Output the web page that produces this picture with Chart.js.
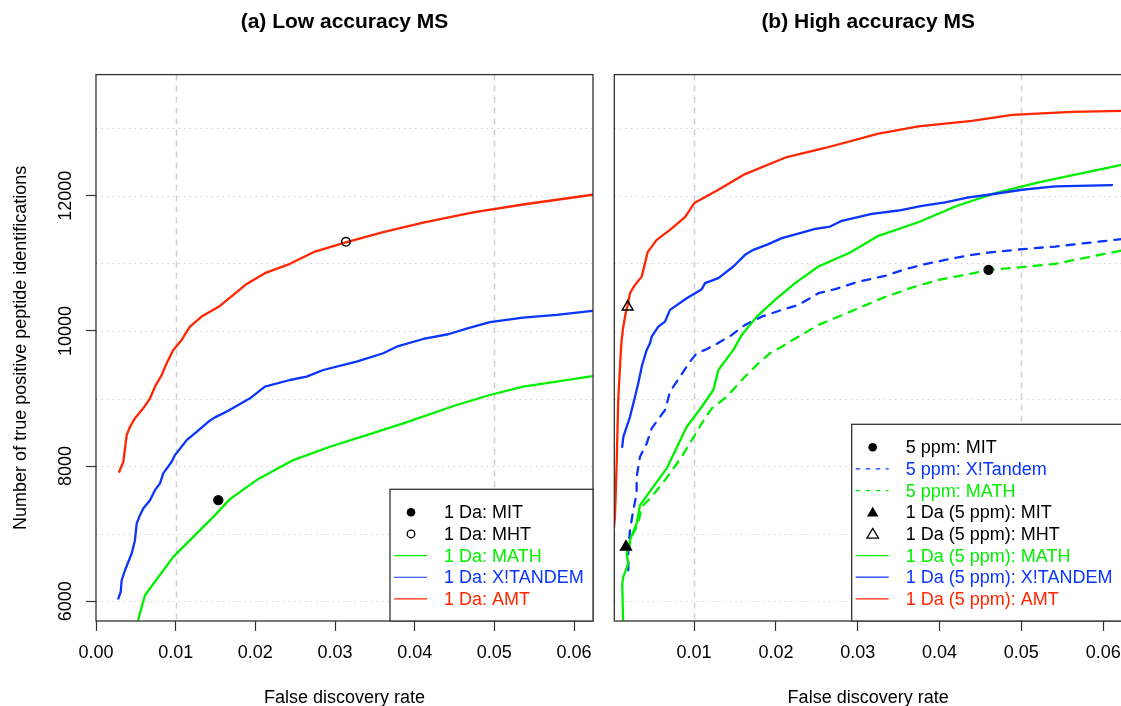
<!DOCTYPE html>
<html>
<head>
<meta charset="utf-8">
<title>FDR curves</title>
<script src="https://cdn.jsdelivr.net/npm/chart.js@4.4.0/dist/chart.umd.min.js"></script>
<style>
  html, body { margin: 0; padding: 0; background: #fff; overflow: hidden; width: 1121px; height: 706px; }
  canvas { position: absolute; top: 0; }
  #lowChart { left: 0; }
  #highChart { left: 600px; }
</style>
</head>
<body>
<canvas id="lowChart" width="600" height="706"></canvas>
<canvas id="highChart" width="530" height="706"></canvas>
<script>
// ---------- axis ticks / grid ----------
const xTicks = [0, 0.01, 0.02, 0.03, 0.04, 0.05, 0.06];
const yTicks = [6000, 8000, 10000, 12000];
const xGrid = [0.01, 0.05];
const yGrid = [6000, 7000, 8000, 9000, 10000, 11000, 12000, 13000];

// ---------- (a) low accuracy MS, 1 Da ----------
const lowAmtFdr = [0.00292, 0.00343, 0.00385, 0.00427, 0.00489, 0.00593, 0.00678, 0.00740, 0.00824, 0.00887, 0.00970, 0.01075, 0.01179, 0.01326, 0.01556, 0.01723, 0.01891, 0.02120, 0.02434, 0.02748, 0.03146, 0.03605, 0.04107, 0.04734, 0.05361, 0.06232, 0.06500];
const lowAmtCount = [7916, 8064, 8459, 8582, 8707, 8855, 9003, 9175, 9348, 9521, 9719, 9867, 10063, 10212, 10370, 10533, 10696, 10855, 10993, 11175, 11314, 11462, 11604, 11753, 11871, 12015, 12060];

const lowTandemFdr = [0.00280, 0.00310, 0.00322, 0.00364, 0.00448, 0.00489, 0.00511, 0.00552, 0.00593, 0.00678, 0.00740, 0.00803, 0.00844, 0.00950, 0.00991, 0.01138, 0.01263, 0.01409, 0.01493, 0.01660, 0.01932, 0.02120, 0.02434, 0.02644, 0.02852, 0.03271, 0.03605, 0.03773, 0.04107, 0.04420, 0.04651, 0.04944, 0.05361, 0.05780, 0.06232, 0.06500];
const lowTandemCount = [6040, 6138, 6311, 6459, 6707, 6904, 7151, 7274, 7374, 7496, 7644, 7744, 7892, 8064, 8163, 8385, 8508, 8656, 8721, 8819, 9003, 9175, 9274, 9323, 9422, 9545, 9670, 9767, 9881, 9951, 10034, 10129, 10197, 10237, 10296, 10320];

const lowMathFdr = [0.00500, 0.00615, 0.00970, 0.01472, 0.01681, 0.02016, 0.02476, 0.02936, 0.03397, 0.03856, 0.04526, 0.04944, 0.05361, 0.05780, 0.06232, 0.06500];
const lowMathCount = [5600, 6089, 6656, 7249, 7511, 7793, 8089, 8286, 8459, 8633, 8904, 9052, 9175, 9249, 9333, 9380];

const lowMit = { x: 0.01535, y: 7496 };
const lowMht = { x: 0.03137, y: 11319 };

// ---------- (b) high accuracy MS ----------
const highAmtFdr = [0.00010, 0.00033, 0.00054, 0.00073, 0.00106, 0.00115, 0.00135, 0.00164, 0.00188, 0.00217, 0.00269, 0.00360, 0.00433, 0.00543, 0.00706, 0.00889, 0.01003, 0.01297, 0.01623, 0.02133, 0.02602, 0.03254, 0.03743, 0.04396, 0.04886, 0.05620, 0.06223, 0.06500];
const highAmtCount = [6950, 7249, 8040, 8978, 9719, 9867, 10063, 10262, 10380, 10558, 10667, 10804, 11166, 11348, 11496, 11684, 11892, 12089, 12321, 12573, 12707, 12919, 13027, 13107, 13196, 13240, 13255, 13262];

const highTandemFdr = [0.00122, 0.00135, 0.00217, 0.00278, 0.00318, 0.00360, 0.00421, 0.00461, 0.00482, 0.00563, 0.00645, 0.00706, 0.00910, 0.01094, 0.01134, 0.01297, 0.01480, 0.01623, 0.01725, 0.01908, 0.02072, 0.02317, 0.02480, 0.02663, 0.02806, 0.03173, 0.03498, 0.03785, 0.04070, 0.04355, 0.04599, 0.05008, 0.05415, 0.06109];
const highTandemCount = [8286, 8434, 8730, 9027, 9225, 9471, 9719, 9818, 9916, 10064, 10138, 10311, 10484, 10618, 10707, 10781, 10953, 11126, 11200, 11284, 11373, 11456, 11511, 11545, 11630, 11733, 11782, 11852, 11901, 11975, 12015, 12089, 12138, 12159];

const highMathFdr = [0.00135, 0.00122, 0.00135, 0.00196, 0.00176, 0.00217, 0.00298, 0.00339, 0.00665, 0.00910, 0.01094, 0.01235, 0.01297, 0.01480, 0.01583, 0.01766, 0.01990, 0.02235, 0.02520, 0.02908, 0.03254, 0.03764, 0.04192, 0.04681, 0.05211, 0.06223, 0.06500];
const highMathCount = [5600, 6262, 6360, 6559, 6707, 6904, 7151, 7422, 7966, 8582, 8878, 9126, 9422, 9719, 9941, 10212, 10459, 10707, 10953, 11160, 11407, 11619, 11841, 12040, 12197, 12459, 12530];

const ppmTandemFdr = [0.00196, 0.00196, 0.00217, 0.00257, 0.00298, 0.00298, 0.00339, 0.00421, 0.00482, 0.00645, 0.00706, 0.00788, 0.00950, 0.01032, 0.01134, 0.01256, 0.01461, 0.01623, 0.01828, 0.02072, 0.02275, 0.02520, 0.02724, 0.03009, 0.03336, 0.03581, 0.03785, 0.04070, 0.04396, 0.04599, 0.05008, 0.05415, 0.06223, 0.06500];
const ppmTandemCount = [6459, 6756, 7052, 7348, 7595, 7841, 8138, 8336, 8559, 8830, 9101, 9249, 9545, 9670, 9719, 9793, 9941, 10089, 10212, 10311, 10385, 10558, 10618, 10730, 10815, 10914, 10978, 11052, 11126, 11160, 11210, 11249, 11359, 11390];

const ppmMathFdr = [0.00196, 0.00237, 0.00318, 0.00360, 0.00482, 0.00645, 0.00849, 0.00971, 0.01094, 0.01216, 0.01399, 0.01583, 0.01786, 0.01929, 0.02072, 0.02275, 0.02520, 0.02765, 0.03009, 0.03295, 0.03662, 0.03988, 0.04314, 0.04599, 0.05008, 0.05415, 0.06223, 0.06500];
const ppmMathCount = [6756, 6953, 7151, 7397, 7545, 7793, 8138, 8385, 8633, 8855, 9027, 9274, 9521, 9670, 9767, 9916, 10089, 10212, 10336, 10484, 10641, 10756, 10830, 10904, 10944, 10993, 11190, 11250];

const ppmMit = { x: 0.04599, y: 10904 };
const highMit = { x: 0.00168, y: 6804 };
const highMht = { x: 0.00188, y: 10356 };

// ---------- legends ----------
const lowLegendLabels = ["1 Da: MIT", "1 Da: MHT", "1 Da: MATH", "1 Da: X!TANDEM", "1 Da: AMT"];
const highLegendLabels = ["5 ppm: MIT", "5 ppm: X!Tandem", "5 ppm: MATH", "1 Da (5 ppm): MIT", "1 Da (5 ppm): MHT", "1 Da (5 ppm): MATH", "1 Da (5 ppm): X!TANDEM", "1 Da (5 ppm): AMT"];

const RED = "#ff2600";
const BLUE = "#0a35ff";
const GREEN = "#00f000";
const FONT = "'Liberation Sans', Arial, Helvetica, sans-serif";

Chart.defaults.font.family = FONT;
Chart.defaults.color = "#000";

function lineSet(label, xs, ys, color, dashed) {
    return {
        label: label,
        data: xs.map((x, i) => ({ x: x, y: ys[i] })),
        borderColor: color,
        borderWidth: 2.3,
        borderDash: dashed ? [8, 8] : [],
        borderCapStyle: "round",
        borderJoinStyle: "round",
        pointRadius: 0,
        fill: false,
        tension: 0,
        clip: 0,
    };
}

function pointSet(label, pt, style, filled, radius) {
    return {
        label: label,
        data: [pt],
        showLine: false,
        pointStyle: style,
        pointRadius: radius,
        pointBackgroundColor: filled ? "#000" : "rgba(0,0,0,0)",
        pointBorderColor: "#000",
        pointBorderWidth: 1.4,
        clip: false,
    };
}

function drawSymbol(ctx, kind, color, x0, cx, cy) {
    ctx.save();
    ctx.strokeStyle = color;
    ctx.fillStyle = color;
    ctx.lineWidth = 1.3;
    if (kind === "dot") {
        ctx.beginPath(); ctx.arc(cx, cy, 4.3, 0, Math.PI * 2); ctx.fill();
    } else if (kind === "circle") {
        ctx.beginPath(); ctx.arc(cx, cy, 3.8, 0, Math.PI * 2); ctx.stroke();
    } else if (kind === "tri" || kind === "otri") {
        ctx.beginPath();
        ctx.moveTo(cx, cy - 5.5); ctx.lineTo(cx + 5.8, cy + 4.2); ctx.lineTo(cx - 5.8, cy + 4.2); ctx.closePath();
        if (kind === "tri") ctx.fill(); else ctx.stroke();
    } else {
        ctx.lineWidth = 1.2;
        if (kind === "dash") ctx.setLineDash([4.5, 5.5]);
        ctx.beginPath(); ctx.moveTo(x0 + 4, cy); ctx.lineTo(x0 + 37, cy); ctx.stroke();
    }
    ctx.restore();
}

// grid, frame, legend box and y labels in the R style
const rPlot = {
    id: "rPlot",
    beforeDatasetsDraw(chart) {
        const { ctx, chartArea: a, scales: { x, y } } = chart;
        ctx.save();
        ctx.strokeStyle = "#d0d0d0";
        ctx.lineWidth = 1.2;
        ctx.setLineDash([1.5, 4]);
        yGrid.forEach(v => {
            const py = Math.round(y.getPixelForValue(v)) + 0.5;
            ctx.beginPath(); ctx.moveTo(a.left, py); ctx.lineTo(a.right, py); ctx.stroke();
        });
        ctx.setLineDash([6, 5]);
        ctx.lineWidth = 1.5;
        xGrid.forEach(v => {
            const px = Math.round(x.getPixelForValue(v)) + 0.5;
            ctx.beginPath(); ctx.moveTo(px, a.top); ctx.lineTo(px, a.bottom); ctx.stroke();
        });
        ctx.restore();
    },
    afterDatasetsDraw(chart, args, opts) {
        const { ctx, chartArea: a } = chart;
        ctx.save();
        ctx.strokeStyle = "#333";
        ctx.lineWidth = 1.3;
        ctx.strokeRect(a.left, a.top, a.right - a.left, a.bottom - a.top);

        // legend
        const lx = opts.legendLeft, ly = opts.legendTop;
        ctx.fillStyle = "#fff";
        ctx.fillRect(lx, ly, a.right - lx, a.bottom - ly);
        ctx.strokeRect(lx, ly, a.right - lx, a.bottom - ly);
        ctx.font = "18px " + FONT;
        ctx.textBaseline = "middle";
        ctx.textAlign = "left";
        opts.items.forEach((it, i) => {
            const cy = ly + 23 + i * 21.65;
            drawSymbol(ctx, it.kind, it.color, lx, lx + 21, cy);
            ctx.fillStyle = it.color;
            ctx.fillText(it.label, lx + 54, cy + 1);
        });
        ctx.restore();
    },
    afterDraw(chart, args, opts) {
        if (!opts.yLabels) return;
        const { ctx, scales: { y } } = chart;
        ctx.save();
        ctx.font = "18px " + FONT;
        ctx.fillStyle = "#000";
        ctx.textAlign = "center";
        ctx.textBaseline = "middle";
        y.ticks.forEach(t => {
            ctx.save();
            ctx.translate(66, y.getPixelForValue(t.value));
            ctx.rotate(-Math.PI / 2);
            ctx.fillText(String(t.value), 0, 0);
            ctx.restore();
        });
        ctx.restore();
    },
};

function xScale(min, max) {
    return {
        type: "linear",
        min: min,
        max: max,
        afterBuildTicks: s => { s.ticks = xTicks.filter(v => v >= min && v <= max).map(v => ({ value: v })); },
        afterFit: s => { s.height = 85; s.paddingLeft = 0; s.paddingRight = 0; },
        ticks: { autoSkip: false, maxRotation: 0, padding: 11, font: { size: 18 }, color: "#000", callback: v => v.toFixed(2) },
        grid: { display: true, drawOnChartArea: false, drawTicks: true, tickLength: 10, tickColor: "#333", tickWidth: 1.2 },
        border: { display: false },
        title: { display: true, text: "False discovery rate", font: { size: 18, lineHeight: 0.9 }, color: "#000", padding: { top: 0, bottom: 0 } },
    };
}

const yMin = 5708, yMax = 13793;

//============================== (a) LOW ACCURACY ===========================
const lowConfig = {
    type: "line",
    data: {
        datasets: [
            pointSet("1 Da: MIT", lowMit, "circle", true, 4.5),
            pointSet("1 Da: MHT", lowMht, "circle", false, 4.3),
            lineSet("1 Da: AMT", lowAmtFdr, lowAmtCount, RED, false),
            lineSet("1 Da: X!TANDEM", lowTandemFdr, lowTandemCount, BLUE, false),
            lineSet("1 Da: MATH", lowMathFdr, lowMathCount, GREEN, false),
        ],
    },
    options: {
        responsive: false,
        animation: false,
        events: [],
        layout: { padding: { left: 0, right: 7, top: 0, bottom: 0 } },
        scales: {
            x: xScale(0, 0.06238),
            y: {
                type: "linear",
                min: yMin,
                max: yMax,
                afterBuildTicks: s => { s.ticks = yTicks.map(v => ({ value: v })); },
                afterFit: s => { s.width = 96; },
                ticks: { display: false },
                grid: { display: true, drawOnChartArea: false, drawTicks: true, tickLength: 10, tickColor: "#333", tickWidth: 1.2 },
                border: { display: false },
                title: { display: true, text: "Number of true positive peptide identifications", font: { size: 18 }, color: "#000", padding: { top: 10, bottom: 0 } },
            },
        },
        plugins: {
            legend: { display: false },
            tooltip: { enabled: false },
            title: { display: true, text: "(a) Low accuracy MS", fullSize: false, color: "#000", font: { size: 21, weight: "bold" }, padding: { top: 10, bottom: 39.4 } },
            rPlot: {
                yLabels: true,
                legendLeft: 390,
                legendTop: 489.3,
                items: [
                    { label: lowLegendLabels[0], color: "#000", kind: "dot" },
                    { label: lowLegendLabels[1], color: "#000", kind: "circle" },
                    { label: lowLegendLabels[2], color: GREEN, kind: "line" },
                    { label: lowLegendLabels[3], color: BLUE, kind: "line" },
                    { label: lowLegendLabels[4], color: RED, kind: "line" },
                ],
            },
        },
    },
    plugins: [rPlot],
};

//============================== (b) HIGH ACCURACY ===========================
const highConfig = {
    type: "line",
    data: {
        datasets: [
            pointSet("5 ppm: MIT", ppmMit, "circle", true, 4.5),
            pointSet("1 Da (5 ppm): MIT", highMit, "triangle", true, 6.3),
            pointSet("1 Da (5 ppm): MHT", highMht, "triangle", false, 6.3),
            lineSet("1 Da (5 ppm): AMT", highAmtFdr, highAmtCount, RED, false),
            lineSet("1 Da (5 ppm): X!TANDEM", highTandemFdr, highTandemCount, BLUE, false),
            lineSet("1 Da (5 ppm): MATH", highMathFdr, highMathCount, GREEN, false),
            lineSet("5 ppm: X!Tandem", ppmTandemFdr, ppmTandemCount, BLUE, true),
            lineSet("5 ppm: MATH", ppmMathFdr, ppmMathCount, GREEN, true),
        ],
    },
    options: {
        responsive: false,
        animation: false,
        events: [],
        layout: { padding: { left: 14.3, right: 8, top: 0, bottom: 0 } },
        scales: {
            x: xScale(0.00025, 0.0623),
            y: { type: "linear", display: false, min: yMin, max: yMax },
        },
        plugins: {
            legend: { display: false },
            tooltip: { enabled: false },
            title: { display: true, text: "(b) High accuracy MS", fullSize: false, color: "#000", font: { size: 21, weight: "bold" }, padding: { top: 10, bottom: 39.4 } },
            rPlot: {
                yLabels: false,
                legendLeft: 851.7 - 600,
                legendTop: 424.3,
                items: [
                    { label: highLegendLabels[0], color: "#000", kind: "dot" },
                    { label: highLegendLabels[1], color: BLUE, kind: "dash" },
                    { label: highLegendLabels[2], color: GREEN, kind: "dash" },
                    { label: highLegendLabels[3], color: "#000", kind: "tri" },
                    { label: highLegendLabels[4], color: "#000", kind: "otri" },
                    { label: highLegendLabels[5], color: GREEN, kind: "line" },
                    { label: highLegendLabels[6], color: BLUE, kind: "line" },
                    { label: highLegendLabels[7], color: RED, kind: "line" },
                ],
            },
        },
    },
    plugins: [rPlot],
};

const lowChart = new Chart(document.getElementById("lowChart").getContext("2d"), lowConfig);
const highChart = new Chart(document.getElementById("highChart").getContext("2d"), highConfig);
</script>
</body>
</html>
